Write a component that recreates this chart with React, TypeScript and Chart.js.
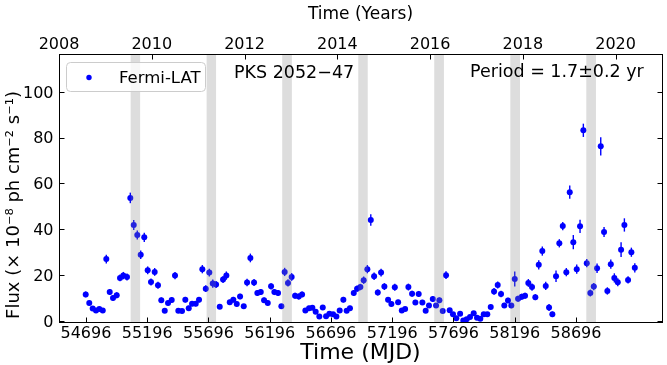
import React, { useEffect, useRef } from "react";
import { Chart, registerables } from "chart.js";
Chart.register(...registerables);

// ---- data ----
const mjd = [
  54694, 54723, 54751, 54778, 54805, 54833, 54862, 54890, 54917, 54947,
  54974, 55001, 55031, 55058, 55086, 55115, 55143, 55172, 55200, 55227,
  55257, 55284, 55311, 55339, 55366, 55396, 55423, 55450, 55480, 55507,
  55535, 55562, 55592, 55619, 55646, 55674, 55703, 55731, 55758, 55788,
  55815, 55842, 55870, 55899, 55927, 55954, 55984, 56011, 56038, 56068,
  56095, 56123, 56150, 56180, 56207, 56234, 56264, 56291, 56318, 56345,
  56375, 56403, 56433, 56460, 56487, 56517, 56544, 56571, 56601, 56629,
  56656, 56683, 56713, 56740, 56767, 56797, 56824, 56851, 56882, 56909,
  56936, 56963, 56993, 57021, 57048, 57078, 57105, 57132, 57162, 57189,
  57217, 57244, 57274, 57301, 57328, 57358, 57385, 57412, 57442, 57469,
  57496, 57527, 57554, 57581, 57608, 57635, 57665, 57692, 57719, 57750,
  57776, 57804, 57831, 57861, 57888, 57915, 57943, 57972, 58000, 58027,
  58057, 58084, 58111, 58141, 58168, 58196, 58223, 58253, 58280, 58307,
  58337, 58364, 58392, 58421, 58449, 58476, 58503, 58533, 58560, 58588,
  58617, 58645, 58674, 58702, 58729, 58756, 58784, 58813, 58841, 58868,
  58898, 58925, 58952, 58980, 59009, 59037, 59064, 59091, 59121, 59148,
  59176,
];
const flux = [
  11.6, 7.8, 5.4, 4.6, 5.2, 4.6, 27.0, 12.6, 10.0, 11.2,
  18.8, 19.8, 19.2, 53.7, 41.9, 37.5, 28.9, 36.5, 22.1, 17.0,
  21.4, 15.6, 9.0, 4.5, 7.8, 9.1, 19.8, 4.5, 4.3, 9.3,
  5.6, 7.5, 7.5, 9.3, 22.6, 14.1, 21.1, 16.3, 15.9, 6.2,
  18.1, 19.8, 8.2, 9.3, 7.4, 10.7, 6.4, 16.8, 27.5, 16.8,
  12.2, 12.6, 9.0, 7.8, 15.1, 12.6, 12.2, 6.4, 21.4, 16.6,
  19.2, 11.0, 10.7, 11.6, 4.6, 5.6, 5.8, 4.0, 2.0, 5.9,
  2.1, 3.2, 2.9, 2.0, 4.6, 9.3, 4.5, 5.6, 12.2, 14.1,
  14.8, 17.8, 22.6, 44.1, 19.5, 12.4, 21.1, 15.0, 9.3, 7.4,
  14.7, 8.2, 4.6, 5.2, 14.8, 11.9, 8.1, 11.8, 8.1, 4.5,
  6.8, 9.6, 6.8, 9.0, 4.3, 20.0, 4.7, 2.9, 1.2, 3.2,
  0.2, 0.8, 1.7, 3.4, 1.4, 1.0, 2.9, 2.9, 6.1, 12.9,
  15.7, 11.8, 6.8, 8.9, 6.7, 18.3, 9.7, 10.6, 11.0, 16.6,
  14.8, 10.4, 24.5, 30.5, 15.3, 5.9, 2.9, 19.5, 33.9, 41.4,
  21.3, 56.2, 34.4, 22.6, 41.3, 83.2, 25.2, 12.2, 15.0, 23.0,
  76.2, 38.8, 13.1, 24.8, 18.8, 16.9, 31.1, 41.9, 17.9, 30.0,
  23.2,
];
const fluxErr = [
  1.3, 1.0, 1.0, 0.9, 0.9, 0.9, 1.9, 1.3, 1.2, 1.3,
  1.5, 1.6, 1.5, 2.3, 2.2, 2.0, 1.9, 2.0, 1.7, 1.5,
  1.7, 1.5, 1.2, 0.9, 1.1, 1.2, 1.6, 0.9, 0.9, 1.2,
  1.0, 1.1, 1.1, 1.2, 1.8, 1.5, 1.7, 1.8, 1.5, 1.0,
  1.5, 1.8, 1.1, 1.2, 1.1, 1.2, 1.0, 1.6, 1.9, 1.5,
  1.3, 1.3, 1.2, 1.1, 1.4, 1.3, 1.3, 1.0, 1.8, 1.6,
  1.7, 1.3, 1.3, 1.3, 0.9, 1.0, 1.0, 0.9, 0.8, 1.0,
  0.8, 0.8, 0.8, 0.8, 0.9, 1.2, 0.9, 1.0, 1.3, 1.4,
  1.4, 1.6, 1.8, 2.5, 1.6, 1.3, 1.7, 1.5, 1.2, 1.1,
  1.5, 1.1, 0.9, 0.9, 1.5, 1.3, 1.1, 1.3, 1.1, 0.9,
  1.0, 1.2, 1.0, 1.2, 0.9, 1.7, 0.9, 0.8, 0.7, 0.8,
  0.6, 0.7, 0.7, 0.8, 0.7, 0.7, 0.8, 0.8, 1.0, 1.5,
  1.5, 1.4, 1.1, 1.2, 1.1, 3.3, 1.3, 1.3, 1.3, 1.7,
  1.6, 1.3, 2.0, 2.0, 1.8, 1.5, 1.2, 2.5, 1.8, 1.8,
  1.8, 2.9, 3.1, 2.0, 2.9, 2.9, 1.8, 1.5, 1.6, 2.1,
  4.0, 2.2, 1.6, 2.0, 2.0, 1.7, 3.2, 2.9, 1.6, 2.0,
  2.0,
];
const bandStart = [55061, 55681, 56298, 56919, 57539, 58160, 58780];
const bandEnd = [55138, 55758, 56377, 56996, 57618, 58239, 58859];
const mjdTicks = [54696, 55196, 55696, 56196, 56696, 57196, 57696, 58196, 58696];
const yearTicks = [2008, 2010, 2012, 2014, 2016, 2018, 2020];
const fluxTicks = [0, 20, 40, 60, 80, 100];

const seriesLabel = "Fermi-LAT";
const sourceName = "PKS 2052−47";
const periodText = "Period = 1.7±0.2 yr";
const xTitle = "Time (MJD)";
const x2Title = "Time (Years)";
const yTitle = "Flux (× 10⁻⁸ ph cm⁻² s⁻¹)";

const FONT = '"DejaVu Sans", sans-serif';
const BLUE = "#0000ff";

const decorPlugin = {
  id: "decor",
  beforeDatasetsDraw(chart: any) {
    const { ctx, scales } = chart;
    const x = scales.x;
    const y = scales.y;
    ctx.save();
    ctx.strokeStyle = BLUE;
    ctx.lineWidth = 1.4;
    for (let i = 0; i < mjd.length; i++) {
      const px = x.getPixelForValue(mjd[i]);
      const y1 = y.getPixelForValue(flux[i] - fluxErr[i]);
      const y2 = y.getPixelForValue(flux[i] + fluxErr[i]);
      ctx.beginPath();
      ctx.moveTo(px, y1);
      ctx.lineTo(px, y2);
      ctx.stroke();
    }
    ctx.restore();
  },
  afterDatasetsDraw(chart: any) {
    const { ctx, chartArea: ca, scales } = chart;
    const x = scales.x;
    ctx.save();
    ctx.fillStyle = "rgba(128,128,128,0.27)";
    for (let i = 0; i < bandStart.length; i++) {
      const a = x.getPixelForValue(bandStart[i]);
      const b = x.getPixelForValue(bandEnd[i]);
      ctx.fillRect(a, ca.top, b - a, ca.bottom - ca.top);
    }
    ctx.restore();
  },
  afterDraw(chart: any) {
    const { ctx, chartArea: ca, scales } = chart;
    const x = scales.x;
    const x2 = scales.x2;
    const y = scales.y;
    ctx.save();
    // frame
    ctx.strokeStyle = "#000";
    ctx.lineWidth = 1;
    ctx.strokeRect(ca.left + 0.5, ca.top + 0.5, ca.right - ca.left, ca.bottom - ca.top);
    // inward ticks
    const TL = 5;
    ctx.beginPath();
    mjdTicks.forEach((v) => {
      const p = Math.round(x.getPixelForValue(v)) + 0.5;
      ctx.moveTo(p, ca.bottom + 0.5);
      ctx.lineTo(p, ca.bottom + 0.5 - TL);
    });
    yearTicks.forEach((v) => {
      const p = Math.round(x2.getPixelForValue(v)) + 0.5;
      ctx.moveTo(p, ca.top + 0.5);
      ctx.lineTo(p, ca.top + 0.5 + TL);
    });
    fluxTicks.forEach((v) => {
      const p = Math.round(y.getPixelForValue(v)) + 0.5;
      ctx.moveTo(ca.left + 0.5, p);
      ctx.lineTo(ca.left + 0.5 + TL, p);
      ctx.moveTo(ca.right + 0.5, p);
      ctx.lineTo(ca.right + 0.5 - TL, p);
    });
    ctx.stroke();

    // tick labels
    ctx.fillStyle = "#000";
    ctx.font = `16px ${FONT}`;
    ctx.textBaseline = "alphabetic";
    ctx.textAlign = "center";
    mjdTicks.forEach((v) => {
      ctx.fillText(String(v), x.getPixelForValue(v), ca.bottom + 15.5);
    });
    yearTicks.forEach((v) => {
      ctx.fillText(String(v), x2.getPixelForValue(v), ca.top - 4.7);
    });
    ctx.textAlign = "right";
    fluxTicks.forEach((v) => {
      ctx.fillText(String(v), ca.left - 5.5, y.getPixelForValue(v) + 5.8);
    });

    // axis titles
    const cx = (ca.left + ca.right) / 2;
    ctx.textAlign = "center";
    ctx.font = `22px ${FONT}`;
    ctx.fillText(xTitle, cx, 359);
    ctx.font = `17px ${FONT}`;
    ctx.fillText(x2Title, cx, 19);
    ctx.save();
    ctx.translate(19, 205);
    ctx.rotate(-Math.PI / 2);
    ctx.font = `18px ${FONT}`;
    ctx.fillText(yTitle, 0, 0);
    ctx.restore();

    // annotations
    ctx.font = `17.5px ${FONT}`;
    ctx.textAlign = "left";
    ctx.fillText(sourceName, 234, 77.5);
    ctx.fillText(periodText, 470, 77.3);

    // legend
    const lx = 66.5, ly = 62.5, lw = 139, lh = 29, r = 4;
    ctx.beginPath();
    ctx.moveTo(lx + r, ly);
    ctx.lineTo(lx + lw - r, ly);
    ctx.arcTo(lx + lw, ly, lx + lw, ly + r, r);
    ctx.lineTo(lx + lw, ly + lh - r);
    ctx.arcTo(lx + lw, ly + lh, lx + lw - r, ly + lh, r);
    ctx.lineTo(lx + r, ly + lh);
    ctx.arcTo(lx, ly + lh, lx, ly + lh - r, r);
    ctx.lineTo(lx, ly + r);
    ctx.arcTo(lx, ly, lx + r, ly, r);
    ctx.closePath();
    ctx.fillStyle = "rgba(255,255,255,0.8)";
    ctx.fill();
    ctx.strokeStyle = "#cccccc";
    ctx.lineWidth = 1;
    ctx.stroke();
    ctx.fillStyle = BLUE;
    ctx.beginPath();
    ctx.arc(89, 77.5, 2.7, 0, Math.PI * 2);
    ctx.fill();
    ctx.fillStyle = "#000";
    ctx.font = `16.5px ${FONT}`;
    ctx.fillText(seriesLabel, 119, 82.5);
    ctx.restore();
  },
};

export default function App() {
  const ref = useRef<HTMLCanvasElement | null>(null);
  useEffect(() => {
    if (!ref.current) return;
    const hidden = { display: false };
    const chart = new Chart(ref.current, {
      type: "scatter",
      data: {
        datasets: [
          {
            label: seriesLabel,
            data: mjd.map((v, i) => ({ x: v, y: flux[i] })),
            pointRadius: 3,
            pointHoverRadius: 3,
            pointBackgroundColor: BLUE,
            pointBorderWidth: 0,
            showLine: false,
          },
        ],
      },
      options: {
        animation: false,
        responsive: false,
        devicePixelRatio: 1,
        layout: { padding: 0 },
        plugins: { legend: { display: false }, tooltip: { enabled: false } },
        scales: {
          x: {
            type: "linear", axis: "x", position: "bottom", min: 54476, max: 59398,
            grid: hidden, border: hidden, ticks: hidden,
            afterFit: (s: any) => { s.height = 43; },
          },
          x2: {
            type: "linear", axis: "x", position: "top", min: 2008, max: 2021,
            grid: hidden, border: hidden, ticks: hidden,
            afterFit: (s: any) => { s.height = 54; },
          },
          y: {
            type: "linear", axis: "y", position: "left", min: -0.45, max: 116.5,
            grid: hidden, border: hidden, ticks: hidden,
            afterFit: (s: any) => { s.width = 59; },
          },
          y2: {
            type: "linear", axis: "y", position: "right", min: -0.45, max: 116.5,
            grid: hidden, border: hidden, ticks: hidden,
            afterFit: (s: any) => { s.width = 5; },
          },
        },
      } as any,
      plugins: [decorPlugin],
    });
    return () => chart.destroy();
  }, []);
  return (
    <div style={{ position: "fixed", left: 0, top: 0, width: 667, height: 365, background: "#fff" }}>
      <canvas ref={ref} width={667} height={365} style={{ width: 667, height: 365, display: "block" }} />
    </div>
  );
}
